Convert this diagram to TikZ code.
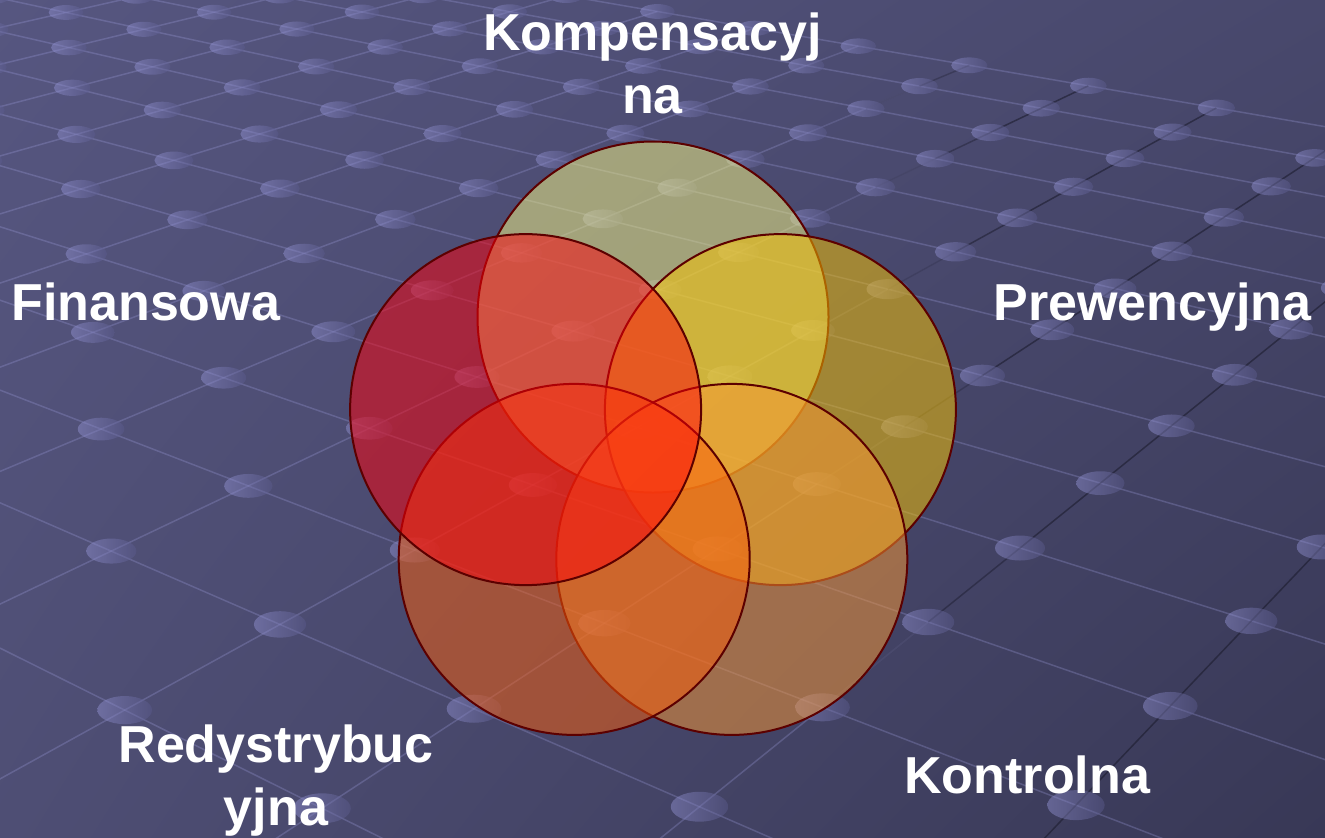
\documentclass[tikz,border=0pt]{standalone}
\usepackage{fontspec}
\setmainfont{Liberation Sans}
\usetikzlibrary{shadings}
\definecolor{bgUL}{RGB}{86,86,128}
\definecolor{bgUR}{RGB}{72,72,108}
\definecolor{bgLL}{RGB}{78,78,116}
\definecolor{bgLR}{RGB}{56,56,86}
\definecolor{gridlight}{RGB}{160,160,224}
\definecolor{griddark}{RGB}{28,28,46}
\definecolor{dotlight}{RGB}{150,150,215}
\definecolor{dotdark}{RGB}{90,90,140}
\definecolor{ringline}{RGB}{92,0,0}
\definecolor{cTop}{RGB}{249,249,132}
\definecolor{cRight}{RGB}{251,197,0}
\definecolor{cBR}{RGB}{250,152,52}
\definecolor{cBL}{RGB}{250,94,11}
\definecolor{cLeft}{RGB}{255,0,10}
% perspective grid point (u,v) -> pixel coordinates
\newcommand\gridpoint[3]{%
  \pgfmathsetmacro\gw{1-0.065*(#1)-0.066*(#2)}%
  \pgfmathsetmacro\gx{(150*(#1)-153*(#2)+1020)/\gw}%
  \pgfmathsetmacro\gy{-500+1048/\gw}%
  \coordinate (#3) at (\gx,\gy);%
}
\begin{document}
\begin{tikzpicture}[x=0.5pt,y=-0.5pt,
  venn/.style={draw=ringline, line width=1pt, fill opacity=0.5, draw opacity=1},
  lbl/.style={text=white, font=\fontsize{26}{31.5}\selectfont\bfseries, inner sep=0pt},
  gridline/.style={gridlight, opacity=0.28, line width=0.75pt}]
\useasboundingbox (0,0) rectangle (1325,837);
\shade[upper left=bgUL, upper right=bgUR, lower left=bgLL, lower right=bgLR] (0,0) rectangle (1325,837);
\begin{scope}
\clip (0,0) rectangle (1325,837);
% lines running down to the right
\foreach \v in {-9,...,6} {
  \gridpoint{-14}{\v}{dA}
  \gridpoint{4}{\v}{dB}
  \draw[gridline] (dA) -- (dB);
}
% lines running up to the right
\foreach \u in {-14,...,4} {
  \foreach \v in {-9,...,5} {
    \pgfmathtruncatemacro\vn{\v+1}
    \gridpoint{\u}{\v}{aA}
    \let\gxa\gx
    \gridpoint{\u}{\vn}{aB}
    \pgfmathsetmacro\dk{min(1,max(0,(0.5*(\gxa+\gx)-820)/180))}
    \pgfmathsetmacro\opl{0.28*(1-\dk)}
    \pgfmathsetmacro\opd{0.6*\dk}
    \draw[gridlight, line width=0.75pt, opacity=\opl] (aA) -- (aB);
    \draw[griddark, line width=0.75pt, opacity=\opd] (aA) -- (aB);
  }
}
% dots
\foreach \u in {-14,...,4} {
  \foreach \v in {-9,...,6} {
    \gridpoint{\u}{\v}{p}
    \pgfmathsetmacro\rx{(20+30/\gw)/2}
    \pgfmathsetmacro\ry{(5+20/\gw)/2}
    \shade[left color=dotlight, right color=dotdark, fill opacity=0.45] (p) ellipse [x radius=\rx, y radius=\ry];
  }
}
\end{scope}
% Venn circles
\coordinate (cT) at (653,317);
\coordinate (cR) at (780.4,409.6);
\coordinate (cBR) at (731.8,559.4);
\coordinate (cBL) at (574.2,559.4);
\coordinate (cL) at (525.6,409.6);
\draw[venn, fill=cTop] (cT) circle[radius=175.5];
\draw[venn, fill=cRight] (cR) circle[radius=175.5];
\draw[venn, fill=cBR] (cBR) circle[radius=175.5];
\draw[venn, fill=cBL] (cBL) circle[radius=175.5];
\draw[venn, fill=cLeft] (cL) circle[radius=175.5];
% labels
\node[lbl, anchor=base] (kompensacyjna) at (652.5,50) {\begin{tabular}[t]{@{}c@{}}Kompensacyj\\na\end{tabular}};
\node[lbl, anchor=base west] (finansowa) at (11,320) {Finansowa};
\node[lbl, anchor=base west] (prewencyjna) at (993,320) {Prewencyjna};
\node[lbl, anchor=base] (redystrybucyjna) at (276,762) {\begin{tabular}[t]{@{}c@{}}Redystrybuc\\yjna\end{tabular}};
\node[lbl, anchor=base west] (kontrolna) at (904,793) {Kontrolna};
\end{tikzpicture}
\end{document}
